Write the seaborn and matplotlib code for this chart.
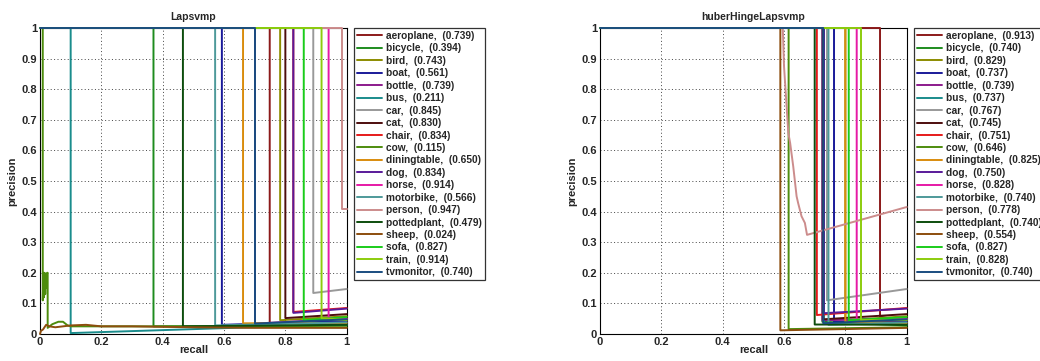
import numpy as np
import pandas as pd
import matplotlib
matplotlib.use("Agg")
import matplotlib.pyplot as plt
import seaborn as sns

classes = ["aeroplane", "bicycle", "bird", "boat", "bottle", "bus", "car", "cat",
           "chair", "cow", "diningtable", "dog", "horse", "motorbike", "person",
           "pottedplant", "sheep", "sofa", "train", "tvmonitor"]
colors = ["#8c1a1a", "#1e8c1e", "#8c8c00", "#1a1a99", "#8c1a8c", "#1a8c8c", "#999999",
          "#4d0d0d", "#e61a1a", "#4d8c0d", "#d98c0d", "#591a99", "#e619a6", "#4d9999",
          "#cc8c8c", "#0d4d0d", "#8c4d0d", "#1acc1a", "#8ccc0d", "#1a4d80"]

# average precision shown in legends
ap_left = [0.739, 0.394, 0.743, 0.561, 0.739, 0.211, 0.845, 0.830, 0.834, 0.115,
           0.650, 0.834, 0.914, 0.566, 0.947, 0.479, 0.024, 0.827, 0.914, 0.740]
ap_right = [0.913, 0.740, 0.829, 0.737, 0.739, 0.737, 0.767, 0.745, 0.751, 0.646,
            0.825, 0.750, 0.828, 0.740, 0.778, 0.740, 0.554, 0.827, 0.828, 0.740]

# precision at recall 1
end_prec = [0.040, 0.028, 0.058, 0.042, 0.050, 0.032, 0.147, 0.065, 0.085, 0.022,
            0.036, 0.083, 0.050, 0.038, 0.410, 0.030, 0.020, 0.055, 0.045, 0.048]

# recall where precision drops from 1, and precision right after the drop
drop_rec_left = [0.749, 0.370, 0.783, 0.593, 0.701, 0.100, 0.891, 0.800, 0.826, 0.009,
                 0.662, 0.826, 0.941, 0.571, 0.984, 0.466, 0.000, 0.860, 0.918, 0.701]
drop_prec_left = [0.034, 0.025, 0.045, 0.030, 0.034, 0.003, 0.134, 0.052, 0.072, 0.110,
                  0.035, 0.069, 0.052, 0.028, 0.410, 0.025, 0.000, 0.045, 0.052, 0.034]
drop_rec_right = [0.913, 0.725, 0.800, 0.763, 0.725, 0.730, 0.740, 0.728, 0.707, 0.615,
                  0.800, 0.730, 0.837, 0.745, 0.596, 0.700, 0.588, 0.811, 0.850, 0.728]
drop_prec_right = [0.057, 0.040, 0.045, 0.040, 0.045, 0.035, 0.110, 0.048, 0.062, 0.016,
                   0.040, 0.068, 0.045, 0.030, 1.000, 0.031, 0.012, 0.045, 0.045, 0.035]

# irregular curves
cow_left_rec = [0.0, 0.009, 0.009, 0.011, 0.013, 0.015, 0.017, 0.019, 0.021, 0.023, 0.025,
                0.025, 0.04, 0.06, 0.075, 0.09, 0.1, 0.2, 0.4, 0.6, 1.0]
cow_left_prec = [1.0, 1.0, 0.11, 0.20, 0.12, 0.20, 0.13, 0.19, 0.15, 0.20, 0.20,
                 0.02, 0.032, 0.04, 0.04, 0.028, 0.025, 0.025, 0.025, 0.024, 0.022]
sheep_left_rec = [0.0, 0.003, 0.01, 0.02, 0.03, 0.05, 0.1, 0.15, 0.2, 0.3, 0.5, 0.7, 1.0]
sheep_left_prec = [0.0, 0.01, 0.015, 0.03, 0.025, 0.022, 0.028, 0.03, 0.025, 0.025, 0.022, 0.02, 0.02]
person_right_rec = [0.0, 0.596, 0.600, 0.614, 0.620, 0.630, 0.641, 0.646, 0.657, 0.668, 0.675, 1.0]
person_right_prec = [1.0, 1.0, 0.875, 0.657, 0.624, 0.548, 0.450, 0.428, 0.385, 0.363, 0.324, 0.415]


def curve(i, drop_rec, drop_prec):
    return [0.0, drop_rec[i], drop_rec[i], 1.0], [1.0, 1.0, drop_prec[i], end_prec[i]]


def build(side):
    rows = []
    for i, c in enumerate(classes):
        if side == "left":
            lab = f"{c},  ({ap_left[i]:.3f})"
            if c == "cow":
                r, p = cow_left_rec, cow_left_prec
            elif c == "sheep":
                r, p = sheep_left_rec, sheep_left_prec
            else:
                r, p = curve(i, drop_rec_left, drop_prec_left)
        else:
            lab = f"{c},  ({ap_right[i]:.3f})"
            if c == "person":
                r, p = person_right_rec, person_right_prec
            else:
                r, p = curve(i, drop_rec_right, drop_prec_right)
        for k, (a, b) in enumerate(zip(r, p)):
            rows.append({"recall": a, "precision": b, "label": lab, "order": k})
    return pd.DataFrame(rows)


sns.set_style("white")
plt.rcParams["font.family"] = ["Liberation Sans", "DejaVu Sans"]
plt.rcParams["font.weight"] = "bold"

fig = plt.figure(figsize=(10.4, 3.61), dpi=100)
axL = fig.add_axes([40 / 1040, 27 / 361, 306.7 / 1040, 306 / 361])
axR = fig.add_axes([600 / 1040, 27 / 361, 306.7 / 1040, 306 / 361])

for ax, side, title in [(axL, "left", "Lapsvmp"), (axR, "right", "huberHingeLapsvmp")]:
    df = build(side)
    labels = list(dict.fromkeys(df["label"]))
    sns.lineplot(data=df, x="recall", y="precision", hue="label", hue_order=labels,
                 palette=colors, sort=False, estimator=None, units="label",
                 linewidth=1.4, ax=ax, legend=True)
    for ln in ax.get_lines():
        ln.set_clip_on(False)
        ln.set_zorder(3)
    ax.set_xlim(0, 1)
    ax.set_ylim(0, 1)
    ax.set_xticks([0, 0.2, 0.4, 0.6, 0.8, 1])
    ax.set_xticklabels(["0", "0.2", "0.4", "0.6", "0.8", "1"])
    ax.set_yticks(np.arange(0, 1.01, 0.1))
    ax.set_yticklabels(["0"] + [f"{v:.1f}" for v in np.arange(0.1, 0.95, 0.1)] + ["1"])
    ax.grid(True, color="#444444", linestyle=(0, (1, 2.5)), linewidth=0.7)
    ax.tick_params(axis="both", direction="in", length=3, labelsize=8, pad=2)
    for t in ax.get_xticklabels() + ax.get_yticklabels():
        t.set_fontweight("bold")
    for s in ax.spines.values():
        s.set_color("black")
        s.set_linewidth(0.8)
    ax.set_xlabel("recall", fontsize=8, fontweight="bold", labelpad=-1)
    ax.set_ylabel("precision", fontsize=8, fontweight="bold", labelpad=3)
    ax.set_title(title, fontsize=7.5, fontweight="bold", pad=6)
    handles, labs = ax.get_legend_handles_labels()
    for h in handles:
        h.set_linewidth(1.4)
    leg = ax.legend(handles, labs, loc="upper left", bbox_to_anchor=(1.025, 1.0),
                    borderaxespad=0, frameon=True, fancybox=False, edgecolor="black",
                    prop={"size": 7.3, "weight": "bold"}, handlelength=2.4,
                    handletextpad=0.4, labelspacing=0.24, borderpad=0.3)
    leg.get_frame().set_linewidth(0.9)
    leg.set_zorder(5)

fig.savefig("out.png", dpi=100)
